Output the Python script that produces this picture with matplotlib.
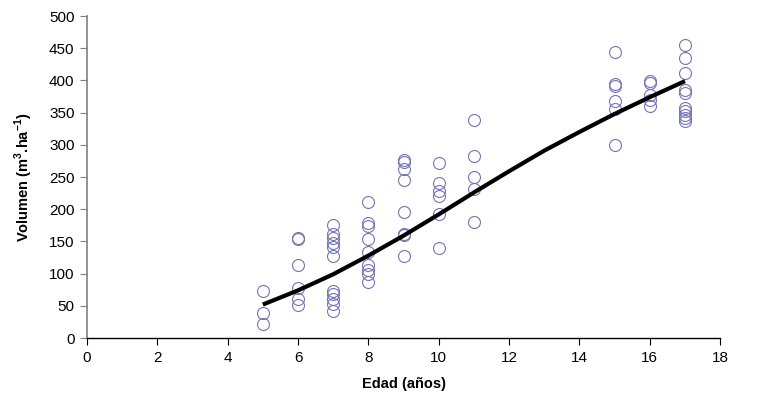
import matplotlib
matplotlib.use("Agg")
import matplotlib.pyplot as plt
import numpy as np

plt.rcParams['font.family'] = ['Liberation Sans', 'DejaVu Sans']
plt.rcParams['mathtext.fontset'] = 'custom'
plt.rcParams['mathtext.rm'] = 'Liberation Sans'
plt.rcParams['mathtext.bf'] = 'Liberation Sans:bold'

# observed volumes per age
edad_obs = ([5] * 3 + [6] * 6 + [7] * 11 + [8] * 9 + [9] * 8 + [10] * 6 +
            [11] * 5 + [15] * 6 + [16] * 5 + [17] * 10)
vol_obs = [73, 39, 22,
           155, 154, 114, 78, 60, 51,
           175, 161, 155, 148, 142, 127, 73, 68, 61, 53, 42,
           211, 178, 174, 154, 134, 113, 106, 100, 87,
           277, 273, 263, 246, 196, 161, 160, 128,
           272, 240, 228, 220, 193, 140,
           338, 282, 250, 231, 180,
           444, 394, 391, 368, 356, 300,
           399, 396, 378, 370, 360,
           455, 435, 412, 385, 381, 357, 352, 347, 341, 337]

# fitted curve
edad_fit = [5, 6, 7, 8, 9, 10, 11, 12, 13, 14, 15, 16, 17]
vol_fit = [52, 74, 99, 128, 159, 192, 226, 259, 291, 320, 348, 374, 399]

fig = plt.figure(figsize=(7.61, 4.01), dpi=100)
ax = fig.add_axes([0.1143, 0.157, 0.832, 0.803])

ax.plot(edad_obs, vol_obs, linestyle='none', marker='o', markersize=8.6,
        markerfacecolor='none', markeredgecolor='#7474B4', markeredgewidth=0.8)
ax.plot(edad_fit, vol_fit, color='black', linewidth=3, solid_capstyle='butt')

ax.set_xlim(0, 18)
ax.set_ylim(0, 500)
ax.set_xticks(np.arange(0, 19, 2))
ax.set_yticks(np.arange(0, 501, 50))

for s in ['top', 'right']:
    ax.spines[s].set_visible(False)
ax.spines['left'].set_color('#808080')
ax.spines['left'].set_linewidth(1.2)
ax.spines['bottom'].set_color('black')
ax.spines['bottom'].set_linewidth(1.0)
ax.tick_params(axis='y', direction='out', length=5, color='#808080', labelsize=11, pad=4)
ax.tick_params(axis='x', direction='out', length=5, color='black', labelsize=11, pad=4)

ax.set_xlabel('Edad (años)', fontsize=10.5, fontweight='bold', labelpad=9)
ax.set_ylabel(r'Volumen (m$^{\mathbf{3}}$.ha$^{\mathbf{-1}}$)', fontsize=10.5,
              fontweight='bold', labelpad=10)

fig.savefig('out.png', dpi=100)
